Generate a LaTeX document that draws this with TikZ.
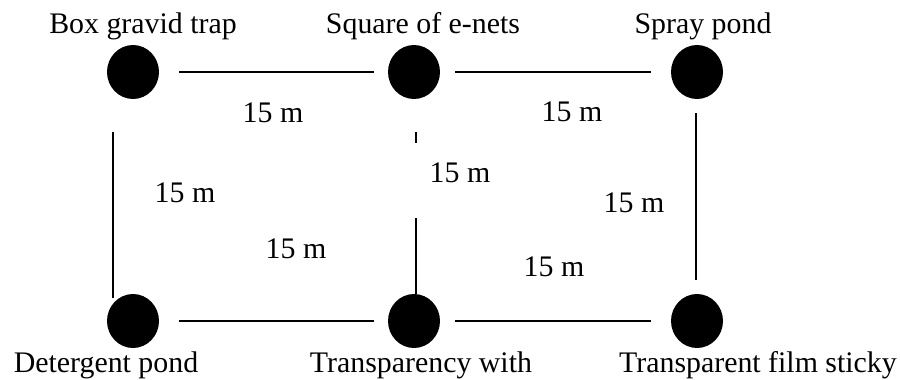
\documentclass[tikz,border=0pt]{standalone}
\usepackage{fontspec}
\setmainfont{Liberation Serif}
\usetikzlibrary{calc,shapes.geometric}

\begin{document}
\begin{tikzpicture}[x=0.02cm, y=-0.02cm, line cap=butt,
  trapdot/.style={ellipse, fill=black, inner sep=0pt, minimum width=1.04cm, minimum height=1.08cm},
  traptext/.style={anchor=base, inner sep=0pt, font=\fontsize{17}{20}\selectfont},
  dist/.style={anchor=base, inner sep=0pt, font=\fontsize{17}{20}\selectfont},
  hline/.style={line width=1.1pt},
  vline/.style={line width=0.8pt}]

\useasboundingbox (0,0) rectangle (900,379);

% trap positions
\node[trapdot] (bgt) at (133,72) {};
\node[trapdot] (sqn) at (414,72) {};
\node[trapdot] (spp) at (697,72) {};
\node[trapdot] (dtp) at (133,321) {};
\node[trapdot] (trw) at (414,321) {};
\node[trapdot] (tfs) at (697,321) {};

% trap names
\node[traptext] (bgtname) at (143,33) {Box gravid trap};
\node[traptext] (sqnname) at (423,33) {Square of e-nets};
\node[traptext] (sppname) at (703,33) {Spray pond};
\node[traptext] (dtpname) at (106,372) {Detergent pond};
\node[traptext] (trwname) at (421,372) {Transparency with};
\node[traptext] (tfsname) at (758,372) {Transparent film sticky};

% horizontal links
\draw[hline, shorten <=0.4cm, shorten >=0.28cm] (bgt) -- (sqn);
\draw[hline, shorten <=0.3cm, shorten >=0.4cm] (sqn) -- (spp);
\draw[hline, shorten <=0.4cm, shorten >=0.28cm] (dtp) -- (trw);
\draw[hline, shorten <=0.3cm, shorten >=0.4cm] (trw) -- (tfs);

% vertical links
\draw[vline] ($(bgt)+(-20,60)$) -- ($(dtp)+(-20,-23)$);
\draw[vline] ($(sqn)+(2,60)$) -- ($(sqn)+(2,71)$);
\draw[vline] ($(trw)+(2,-103)$) -- ($(trw)+(2,-27)$);
\draw[vline] ($(spp)+(-1,41)$) -- ($(tfs)+(-1,-41)$);

% distances
\node[dist] (d1) at (273,122) {15 m};
\node[dist] (d2) at (572,121) {15 m};
\node[dist] (d3) at (185,202) {15 m};
\node[dist] (d4) at (460,182) {15 m};
\node[dist] (d5) at (634,212) {15 m};
\node[dist] (d6) at (296,258) {15 m};
\node[dist] (d7) at (554,276) {15 m};

\end{tikzpicture}
\end{document}
